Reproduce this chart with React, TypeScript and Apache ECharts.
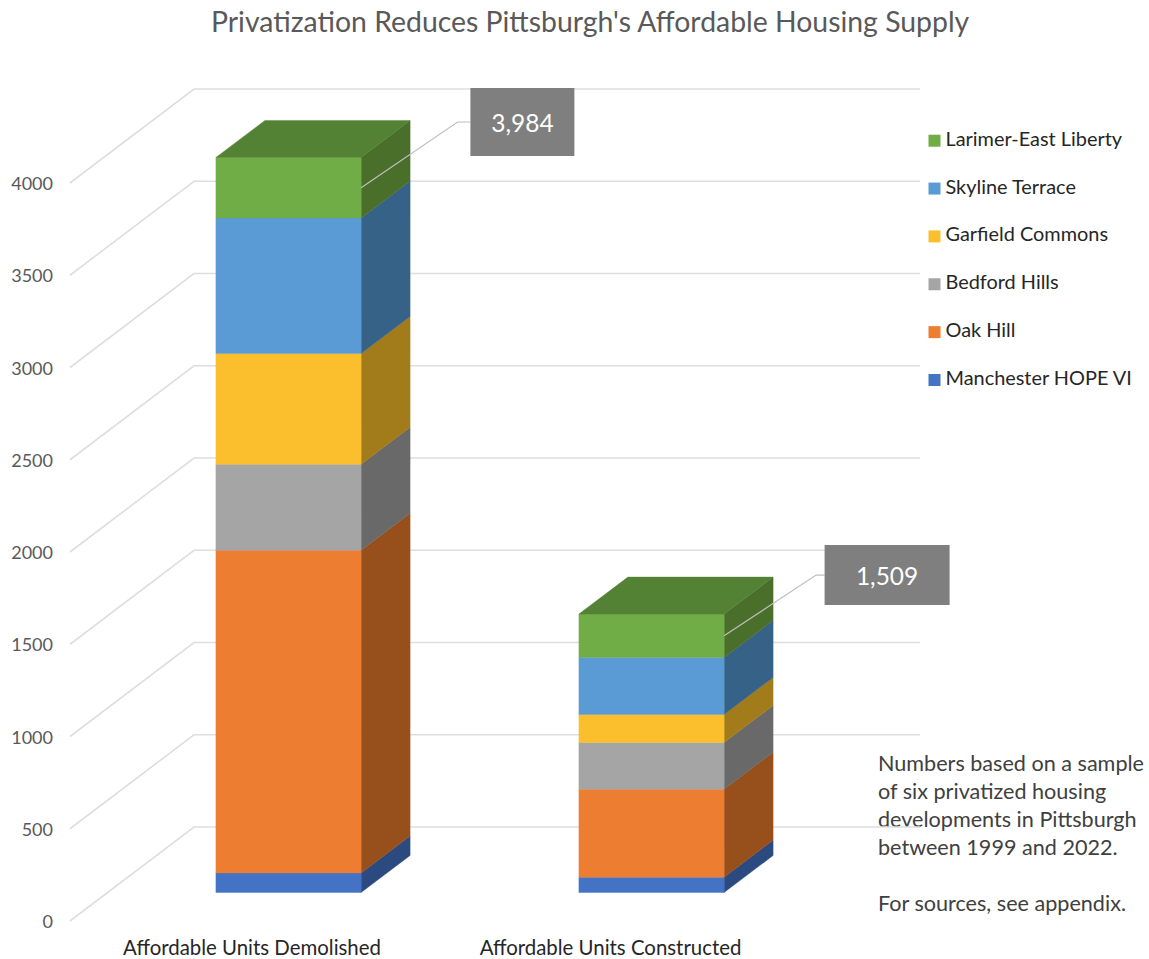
import React, { useEffect, useRef } from "react";
import * as echarts from "echarts";

const chartTitle = "Privatization Reduces Pittsburgh's Affordable Housing Supply";
const categories = ["Affordable Units Demolished", "Affordable Units Constructed"];
const seriesNames = ["Manchester HOPE VI", "Oak Hill", "Bedford Hills", "Garfield Commons", "Skyline Terrace", "Larimer-East Liberty"];
const manchester = [106, 83];
const oakHill = [1749, 477];
const bedford = [466, 253];
const garfield = [600, 152];
const skyline = [735, 309];
const larimer = [328, 235];
const allValues = [manchester, oakHill, bedford, garfield, skyline, larimer];
const yTicks = [0, 500, 1000, 1500, 2000, 2500, 3000, 3500, 4000];
const noteText = "Numbers based on a sample\nof six privatized housing\ndevelopments in Pittsburgh\nbetween 1999 and 2022.\n\nFor sources, see appendix.";

const frontColors = ["#4472C4", "#ED7D31", "#A5A5A5", "#FBBF2E", "#5B9BD5", "#70AD47"];
const sideColors = ["#2A4A80", "#974F1B", "#696969", "#A27C1B", "#376287", "#4A6F2A"];
const topColor = "#548235";
const FONT = "Lato, 'Open Sans', sans-serif";

const WALL_DX = 124, WALL_DY = -94;
const WALL_RIGHT = 920;
const BAR_SHIFT_X = 37, BAR_SHIFT_Y = -28.5;
const BAR_DX = 49, BAR_DY = -37;
const BAR_RATIO = 0.4;
const callouts = [
  { left: 109.3, width: 104, height: 68, midY: -65.7, elbow: 96.5 },
  { left: 100.5, width: 125, height: 60, midY: -60.7, elbow: 92 },
];

export default function App() {
  const ref = useRef<HTMLDivElement>(null);
  useEffect(() => {
    const chart = echarts.init(ref.current!, null, { renderer: "svg" });

    const wallSeries: any = {
      type: "custom",
      name: "walls",
      silent: true,
      z: 1,
      data: yTicks.map((t) => [0, t]),
      encode: { x: 0, y: 1 },
      renderItem: (params: any, api: any) => {
        const y = api.coord([0, api.value(1)])[1];
        const x0 = params.coordSys.x;
        return {
          type: "polyline",
          shape: { points: [[x0, y], [x0 + WALL_DX, y + WALL_DY], [WALL_RIGHT, y + WALL_DY]] },
          style: { stroke: "#DEDEDE", lineWidth: 1.6, fill: "none" },
        };
      },
    };

    const segmentSeries: any[] = seriesNames.map((name, si) => ({
      type: "custom",
      name,
      silent: true,
      z: 2 + si,
      itemStyle: { color: frontColors[si] },
      data: categories.map((_, ci) => {
        let start = 0;
        for (let k = 0; k < si; k++) start += allValues[k][ci];
        return [ci, start, start + allValues[si][ci]];
      }),
      encode: { x: 0, y: [1, 2] },
      renderItem: (_p: any, api: any) => {
        const cat = api.value(0);
        const band = api.size([1, 0])[0];
        const bw = band * BAR_RATIO;
        const low = api.coord([cat, api.value(1)]);
        const high = api.coord([cat, api.value(2)]);
        const l = low[0] + BAR_SHIFT_X - bw / 2;
        const r = l + bw;
        const b = low[1] + BAR_SHIFT_Y;
        const t = high[1] + BAR_SHIFT_Y;
        const poly = (points: number[][], color: string) => ({
          type: "polygon",
          shape: { points },
          style: { fill: color, stroke: color, lineWidth: 0.4 },
        });
        const children: any[] = [
          poly([[r, b], [r + BAR_DX, b + BAR_DY], [r + BAR_DX, t + BAR_DY], [r, t]], sideColors[si]),
          poly([[l, b], [r, b], [r, t], [l, t]], frontColors[si]),
        ];
        if (si === seriesNames.length - 1) {
          children.push(poly([[l, t], [r, t], [r + BAR_DX, t + BAR_DY], [l + BAR_DX, t + BAR_DY]], topColor));
        }
        return { type: "group", children };
      },
    }));

    const calloutSeries: any = {
      type: "custom",
      name: "totals",
      silent: true,
      z: 20,
      data: categories.map((_, ci) => {
        const total = allValues.reduce((s, a) => s + a[ci], 0);
        return [ci, total - larimer[ci] / 2, total];
      }),
      encode: { x: 0, y: 1 },
      renderItem: (_p: any, api: any) => {
        const cat = api.value(0);
        const c = callouts[cat];
        const bw = api.size([1, 0])[0] * BAR_RATIO;
        const pt = api.coord([cat, api.value(1)]);
        const ax = pt[0] + BAR_SHIFT_X + bw / 2;
        const ay = pt[1] + BAR_SHIFT_Y;
        const my = ay + c.midY;
        return {
          type: "group",
          children: [
            {
              type: "polyline",
              shape: { points: [[ax, ay], [ax + c.elbow, my], [ax + c.left, my]] },
              style: { stroke: "#BFBFBF", lineWidth: 1.2, fill: "none" },
            },
            {
              type: "rect",
              shape: { x: ax + c.left, y: my - c.height / 2, width: c.width, height: c.height },
              style: { fill: "#7F7F7F" },
            },
            {
              type: "text",
              style: {
                x: ax + c.left + c.width / 2,
                y: my,
                text: api.value(2).toLocaleString("en-US"),
                align: "center",
                verticalAlign: "middle",
                fill: "#FFFFFF",
                fontSize: 24.5,
                fontFamily: FONT,
              },
            },
          ],
        };
      },
    };

    const catText = { color: "#262626", fontSize: 20.4, fontFamily: FONT };
    const legendText = { color: "#262626", fontSize: 19.9, fontFamily: FONT };

    chart.setOption({
      animation: false,
      backgroundColor: "#FFFFFF",
      title: {
        text: chartTitle,
        left: 206,
        top: 2,
        textStyle: { color: "#595959", fontSize: 28.4, fontWeight: "normal", fontFamily: FONT },
      },
      legend: {
        orient: "vertical",
        left: 928.5,
        top: 126.2,
        padding: 0,
        icon: "rect",
        itemWidth: 12,
        itemHeight: 12,
        itemGap: 18.86,
        selectedMode: false,
        data: [...seriesNames].reverse(),
        formatter: (name: string) => `{a|${name}}`,
        textStyle: {
          ...legendText,
          rich: { a: { ...legendText, height: 23, lineHeight: 23, padding: [0, 0, 6, 0] } },
        },
      },
      grid: { left: 70, top: 183, width: 726, height: 738, containLabel: false },
      xAxis: {
        type: "category",
        data: categories,
        axisLine: { show: false },
        axisTick: { show: false },
        axisLabel: {
          ...catText,
          margin: 16,
          interval: 0,
          formatter: (v: string) => `{c${categories.indexOf(v)}|${v}}`,
          rich: {
            c0: { ...catText, padding: [0, 0, 0, 1] },
            c1: { ...catText, padding: [0, 8, 0, 0] },
          },
        },
      },
      yAxis: {
        type: "value",
        min: 0,
        max: 4000,
        interval: 500,
        axisLine: { show: false },
        axisTick: { show: false },
        splitLine: { show: false },
        axisLabel: {
          color: "#595959",
          fontSize: 18,
          fontFamily: FONT,
          margin: 17,
          padding: [0, 0, 6, 0],
          formatter: (v: number) => String(v),
        },
      },
      graphic: [
        {
          type: "text",
          left: 878,
          top: 749,
          style: { text: noteText, fill: "#404040", fontSize: 21.6, lineHeight: 28, fontFamily: FONT },
        },
      ],
      series: [wallSeries, ...segmentSeries, calloutSeries],
    });
    return () => chart.dispose();
  }, []);
  return <div ref={ref} style={{ position: "fixed", left: 0, top: 0, width: 1149, height: 959 }} />;
}
